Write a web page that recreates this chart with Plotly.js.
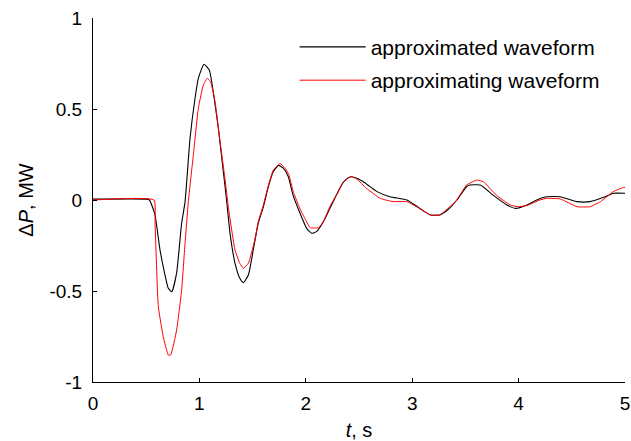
<!DOCTYPE html>
<html>
<head>
<meta charset="utf-8">
<script src="https://cdn.plot.ly/plotly-3.0.1.min.js"></script>
<style>html,body{margin:0;padding:0;background:#fff;}#chart{width:631px;height:441px;}</style>
</head>
<body>
<div id="chart"></div>
<script>
// approximated waveform (black)
const tBlack = [0, 0.50, 0.53, 0.56, 0.583, 0.63, 0.66, 0.708, 0.74, 0.786, 0.833, 0.865, 0.912, 0.959, 0.99, 1.043, 1.093, 1.13, 1.178, 1.225, 1.257, 1.288, 1.335, 1.38, 1.413, 1.46, 1.506, 1.553, 1.6, 1.648, 1.695, 1.742, 1.79, 1.836, 1.88, 1.946, 2.008, 2.055, 2.1, 2.165, 2.227, 2.29, 2.35, 2.40, 2.43, 2.48, 2.54, 2.60, 2.67, 2.79, 2.95, 3.04, 3.17, 3.26, 3.34, 3.42, 3.51, 3.54, 3.64, 3.76, 3.89, 3.97, 4.08, 4.17, 4.26, 4.39, 4.55, 4.67, 4.83, 4.89, 5.0];
const vBlack = [0.005, 0.005, 0.0, -0.04, -0.082, -0.275, -0.366, -0.485, -0.504, -0.40, -0.128, -0.01, 0.339, 0.559, 0.668, 0.746, 0.714, 0.595, 0.394, 0.156, -0.009, -0.183, -0.348, -0.43, -0.454, -0.412, -0.275, -0.128, -0.04, 0.073, 0.156, 0.19, 0.174, 0.128, 0.027, -0.073, -0.156, -0.183, -0.174, -0.119, -0.046, 0.03, 0.095, 0.122, 0.128, 0.12, 0.10, 0.075, 0.046, 0.018, 0.0, -0.033, -0.082, -0.082, -0.051, 0.0, 0.073, 0.082, 0.082, 0.027, -0.027, -0.046, -0.027, 0.0, 0.018, 0.018, -0.009, -0.009, 0.022, 0.037, 0.037];
// approximating waveform (red)
const tRed = [0, 0.573, 0.583, 0.614, 0.66, 0.708, 0.73, 0.786, 0.833, 0.865, 0.896, 0.943, 0.99, 1.037, 1.074, 1.105, 1.147, 1.194, 1.24, 1.272, 1.335, 1.38, 1.413, 1.46, 1.52, 1.553, 1.6, 1.648, 1.695, 1.758, 1.80, 1.84, 1.88, 1.946, 2.008, 2.04, 2.12, 2.165, 2.227, 2.29, 2.35, 2.40, 2.43, 2.48, 2.57, 2.70, 2.82, 2.95, 3.04, 3.17, 3.26, 3.29, 3.42, 3.51, 3.61, 3.67, 3.79, 3.92, 3.99, 4.08, 4.2, 4.26, 4.39, 4.55, 4.67, 4.77, 4.89, 4.98, 5.0];
const vRed = [0, 0, -0.128, -0.586, -0.75, -0.852, -0.852, -0.714, -0.495, -0.238, -0.009, 0.247, 0.504, 0.632, 0.668, 0.65, 0.54, 0.32, 0.119, -0.04, -0.275, -0.348, -0.375, -0.348, -0.22, -0.12, -0.03, 0.08, 0.165, 0.2, 0.18, 0.14, 0.05, -0.05, -0.119, -0.152, -0.152, -0.119, -0.035, 0.03, 0.095, 0.122, 0.128, 0.115, 0.064, 0.009, -0.009, -0.009, -0.037, -0.082, -0.082, -0.07, 0.0, 0.082, 0.11, 0.1, 0.027, -0.027, -0.037, -0.03, 0.0, 0.009, 0.006, -0.037, -0.037, -0.009, 0.046, 0.068, 0.068];

const xTickVals = [0, 1, 2, 3, 4, 5];
const xTickText = ['0', '1', '2', '3', '4', '5'];
const yTickVals = [-1, -0.5, 0, 0.5, 1];
const yTickText = ['-1', '-0.5', '0', '0.5', '1'];
const seriesNames = ['approximated waveform', 'approximating waveform'];

const font = 'Liberation Sans, Arial, sans-serif';

const data = [
  {x: tBlack, y: vBlack, type: 'scatter', mode: 'lines', name: seriesNames[0],
   line: {color: '#000000', width: 1.1, shape: 'spline', smoothing: 0.5}, legendgroup: 'a'},
  {x: tRed, y: vRed, type: 'scatter', mode: 'lines', name: seriesNames[1],
   line: {color: '#ff0000', width: 1, shape: 'spline', smoothing: 0.4}, legendgroup: 'b'}
];

const layout = {
  width: 631, height: 441,
  margin: {l: 93, r: 6, t: 18, b: 59, pad: 0},
  paper_bgcolor: '#ffffff', plot_bgcolor: '#ffffff',
  font: {family: font, size: 19, color: '#000'},
  showlegend: true,
  legend: {x: 0.379, y: 0.976, xanchor: 'left', yanchor: 'top', bgcolor: 'rgba(0,0,0,0)',
           borderwidth: 0, font: {family: font, size: 21, color: '#000'},
           itemwidth: 66, traceorder: 'grouped', tracegroupgap: 3},
  xaxis: {range: [0, 5], tickvals: xTickVals, ticktext: xTickText, ticks: 'inside', ticklen: 4,
          tickcolor: '#000', showline: true, linecolor: '#000', linewidth: 1, showgrid: false,
          zeroline: false, mirror: false, fixedrange: true, ticklabelstandoff: 4,
          tickfont: {family: font, size: 19},
          title: {text: '<i>t</i>, s', font: {family: font, size: 20}, standoff: 14}},
  yaxis: {range: [-1, 1], tickvals: yTickVals, ticktext: yTickText, ticks: 'inside', ticklen: 4,
          tickcolor: '#000', showline: true, linecolor: '#000', linewidth: 1, showgrid: false,
          zeroline: false, mirror: false, fixedrange: true, ticklabelstandoff: 6,
          tickfont: {family: font, size: 19},
          title: {text: '\u0394<i>P</i>, MW', font: {family: font, size: 20}, standoff: 10}}
};

Plotly.newPlot('chart', data, layout, {displayModeBar: false, staticPlot: true});
</script>
</body>
</html>
